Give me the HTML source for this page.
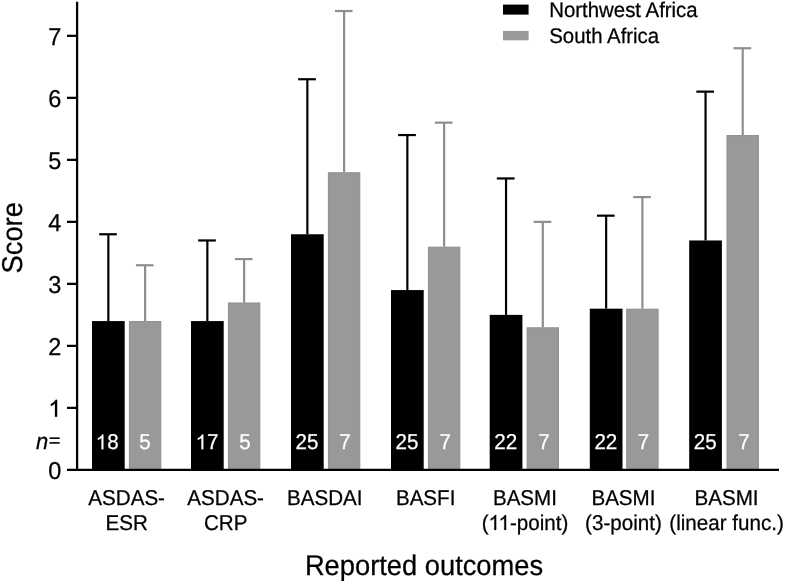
<!DOCTYPE html><html><head><meta charset="utf-8"><style>html,body{margin:0;padding:0;background:#fff;}svg{display:block;will-change:transform;}text{font-family:"Liberation Sans",sans-serif;text-rendering:geometricPrecision;}</style></head><body>
<svg width="785" height="582" viewBox="0 0 785 582">
<rect width="785" height="582" fill="#fff"/>
<line x1="108.35" y1="321.08" x2="108.35" y2="234.26" stroke="#000" stroke-width="2.2"/>
<line x1="99.15" y1="234.26" x2="116.85" y2="234.26" stroke="#000" stroke-width="2.2"/>
<line x1="145.10" y1="321.08" x2="145.10" y2="265.27" stroke="#8e8e8e" stroke-width="2.2"/>
<line x1="135.90" y1="265.27" x2="153.60" y2="265.27" stroke="#8e8e8e" stroke-width="2.2"/>
<rect x="92.00" y="321.08" width="32.7" height="148.82" fill="#000"/>
<rect x="129.40" y="321.58" width="31.4" height="148.32" fill="#999999" stroke="#8e8e8e" stroke-width="1"/>
<path transform="translate(95.69,449.30) scale(0.01006,-0.01006)" d="M763 0L583 0L583 1147Q518 1085 412 1023Q306 961 223 930L223 1104Q375 1175 488 1276Q601 1377 648 1472L763 1472Z" fill="#fff" stroke="#fff" stroke-width="24.85"/><text transform="translate(107.15,449.30) scale(1,1.04)" font-size="20.6" fill="#fff" stroke="#fff" stroke-width="0.25">8</text>
<text transform="translate(139.37,449.30) scale(1,1.04)" font-size="20.6" fill="#fff" stroke="#fff" stroke-width="0.25">5</text>
<text transform="translate(126.65,505.45) scale(1,1.04)" font-size="20.6" text-anchor="middle" stroke="#000" stroke-width="0.25">ASDAS-</text>
<text transform="translate(126.65,529.90) scale(1,1.04)" font-size="20.6" text-anchor="middle" stroke="#000" stroke-width="0.25">ESR</text>
<line x1="207.35" y1="321.08" x2="207.35" y2="240.46" stroke="#000" stroke-width="2.2"/>
<line x1="198.15" y1="240.46" x2="215.85" y2="240.46" stroke="#000" stroke-width="2.2"/>
<line x1="244.10" y1="302.47" x2="244.10" y2="259.07" stroke="#8e8e8e" stroke-width="2.2"/>
<line x1="234.90" y1="259.07" x2="252.60" y2="259.07" stroke="#8e8e8e" stroke-width="2.2"/>
<rect x="191.00" y="321.08" width="32.7" height="148.82" fill="#000"/>
<rect x="228.40" y="302.97" width="31.4" height="166.93" fill="#999999" stroke="#8e8e8e" stroke-width="1"/>
<path transform="translate(195.59,449.30) scale(0.01006,-0.01006)" d="M763 0L583 0L583 1147Q518 1085 412 1023Q306 961 223 930L223 1104Q375 1175 488 1276Q601 1377 648 1472L763 1472Z" fill="#fff" stroke="#fff" stroke-width="24.85"/><text transform="translate(207.05,449.30) scale(1,1.04)" font-size="20.6" fill="#fff" stroke="#fff" stroke-width="0.25">7</text>
<text transform="translate(239.27,449.30) scale(1,1.04)" font-size="20.6" fill="#fff" stroke="#fff" stroke-width="0.25">5</text>
<text transform="translate(225.65,505.45) scale(1,1.04)" font-size="20.6" text-anchor="middle" stroke="#000" stroke-width="0.25">ASDAS-</text>
<text transform="translate(225.65,529.90) scale(1,1.04)" font-size="20.6" text-anchor="middle" stroke="#000" stroke-width="0.25">CRP</text>
<line x1="307.35" y1="234.26" x2="307.35" y2="79.24" stroke="#000" stroke-width="2.2"/>
<line x1="298.15" y1="79.24" x2="315.85" y2="79.24" stroke="#000" stroke-width="2.2"/>
<line x1="344.10" y1="172.25" x2="344.10" y2="11.03" stroke="#8e8e8e" stroke-width="2.2"/>
<line x1="334.90" y1="11.03" x2="352.60" y2="11.03" stroke="#8e8e8e" stroke-width="2.2"/>
<rect x="291.00" y="234.26" width="32.7" height="235.64" fill="#000"/>
<rect x="328.40" y="172.75" width="31.4" height="297.15" fill="#999999" stroke="#8e8e8e" stroke-width="1"/>
<text transform="translate(295.59,449.30) scale(1,1.04)" font-size="20.6" fill="#fff" stroke="#fff" stroke-width="0.25">2</text><text transform="translate(307.05,449.30) scale(1,1.04)" font-size="20.6" fill="#fff" stroke="#fff" stroke-width="0.25">5</text>
<text transform="translate(339.27,449.30) scale(1,1.04)" font-size="20.6" fill="#fff" stroke="#fff" stroke-width="0.25">7</text>
<text transform="translate(324.75,505.45) scale(1,1.04)" font-size="20.6" text-anchor="middle" stroke="#000" stroke-width="0.25">BASDAI</text>
<line x1="407.35" y1="290.07" x2="407.35" y2="135.05" stroke="#000" stroke-width="2.2"/>
<line x1="398.15" y1="135.05" x2="415.85" y2="135.05" stroke="#000" stroke-width="2.2"/>
<line x1="444.10" y1="246.66" x2="444.10" y2="122.64" stroke="#8e8e8e" stroke-width="2.2"/>
<line x1="434.90" y1="122.64" x2="452.60" y2="122.64" stroke="#8e8e8e" stroke-width="2.2"/>
<rect x="391.00" y="290.07" width="32.7" height="179.83" fill="#000"/>
<rect x="428.40" y="247.16" width="31.4" height="222.74" fill="#999999" stroke="#8e8e8e" stroke-width="1"/>
<text transform="translate(395.59,449.30) scale(1,1.04)" font-size="20.6" fill="#fff" stroke="#fff" stroke-width="0.25">2</text><text transform="translate(407.05,449.30) scale(1,1.04)" font-size="20.6" fill="#fff" stroke="#fff" stroke-width="0.25">5</text>
<text transform="translate(439.57,449.30) scale(1,1.04)" font-size="20.6" fill="#fff" stroke="#fff" stroke-width="0.25">7</text>
<text transform="translate(425.65,505.45) scale(1,1.04)" font-size="20.6" text-anchor="middle" stroke="#000" stroke-width="0.25">BASFI</text>
<line x1="506.05" y1="314.88" x2="506.05" y2="178.45" stroke="#000" stroke-width="2.2"/>
<line x1="496.85" y1="178.45" x2="514.55" y2="178.45" stroke="#000" stroke-width="2.2"/>
<line x1="542.80" y1="327.28" x2="542.80" y2="221.86" stroke="#8e8e8e" stroke-width="2.2"/>
<line x1="533.60" y1="221.86" x2="551.30" y2="221.86" stroke="#8e8e8e" stroke-width="2.2"/>
<rect x="489.70" y="314.88" width="32.7" height="155.02" fill="#000"/>
<rect x="527.10" y="327.78" width="31.4" height="142.12" fill="#999999" stroke="#8e8e8e" stroke-width="1"/>
<text transform="translate(494.29,449.30) scale(1,1.04)" font-size="20.6" fill="#fff" stroke="#fff" stroke-width="0.25">2</text><text transform="translate(505.75,449.30) scale(1,1.04)" font-size="20.6" fill="#fff" stroke="#fff" stroke-width="0.25">2</text>
<text transform="translate(538.27,449.30) scale(1,1.04)" font-size="20.6" fill="#fff" stroke="#fff" stroke-width="0.25">7</text>
<text transform="translate(524.95,505.45) scale(1,1.04)" font-size="20.6" text-anchor="middle" stroke="#000" stroke-width="0.25">BASMI</text>
<text transform="translate(481.63,529.90) scale(1,1.04)" font-size="20.6" stroke="#000" stroke-width="0.25">(</text><path transform="translate(488.49,529.90) scale(0.01006,-0.01006)" d="M763 0L583 0L583 1147Q518 1085 412 1023Q306 961 223 930L223 1104Q375 1175 488 1276Q601 1377 648 1472L763 1472Z" fill="#000" stroke="#000" stroke-width="24.85"/><path transform="translate(498.42,529.90) scale(0.01006,-0.01006)" d="M763 0L583 0L583 1147Q518 1085 412 1023Q306 961 223 930L223 1104Q375 1175 488 1276Q601 1377 648 1472L763 1472Z" fill="#000" stroke="#000" stroke-width="24.85"/><text transform="translate(509.88,529.90) scale(1,1.04)" font-size="20.6" stroke="#000" stroke-width="0.25">-point)</text>
<line x1="606.15" y1="308.67" x2="606.15" y2="215.66" stroke="#000" stroke-width="2.2"/>
<line x1="596.95" y1="215.66" x2="614.65" y2="215.66" stroke="#000" stroke-width="2.2"/>
<line x1="642.40" y1="308.67" x2="642.40" y2="197.06" stroke="#8e8e8e" stroke-width="2.2"/>
<line x1="633.20" y1="197.06" x2="650.90" y2="197.06" stroke="#8e8e8e" stroke-width="2.2"/>
<rect x="589.80" y="308.67" width="32.7" height="161.23" fill="#000"/>
<rect x="626.70" y="309.17" width="31.4" height="160.73" fill="#999999" stroke="#8e8e8e" stroke-width="1"/>
<text transform="translate(594.39,449.30) scale(1,1.04)" font-size="20.6" fill="#fff" stroke="#fff" stroke-width="0.25">2</text><text transform="translate(605.85,449.30) scale(1,1.04)" font-size="20.6" fill="#fff" stroke="#fff" stroke-width="0.25">2</text>
<text transform="translate(637.87,449.30) scale(1,1.04)" font-size="20.6" fill="#fff" stroke="#fff" stroke-width="0.25">7</text>
<text transform="translate(623.45,505.45) scale(1,1.04)" font-size="20.6" text-anchor="middle" stroke="#000" stroke-width="0.25">BASMI</text>
<text transform="translate(623.45,529.90) scale(1,1.04)" font-size="20.6" text-anchor="middle" stroke="#000" stroke-width="0.25">(3-point)</text>
<line x1="705.55" y1="240.46" x2="705.55" y2="91.64" stroke="#000" stroke-width="2.2"/>
<line x1="696.35" y1="91.64" x2="714.05" y2="91.64" stroke="#000" stroke-width="2.2"/>
<line x1="742.70" y1="135.05" x2="742.70" y2="48.23" stroke="#8e8e8e" stroke-width="2.2"/>
<line x1="733.50" y1="48.23" x2="751.20" y2="48.23" stroke="#8e8e8e" stroke-width="2.2"/>
<rect x="689.20" y="240.46" width="32.7" height="229.44" fill="#000"/>
<rect x="727.00" y="135.55" width="31.4" height="334.35" fill="#999999" stroke="#8e8e8e" stroke-width="1"/>
<text transform="translate(693.79,449.30) scale(1,1.04)" font-size="20.6" fill="#fff" stroke="#fff" stroke-width="0.25">2</text><text transform="translate(705.25,449.30) scale(1,1.04)" font-size="20.6" fill="#fff" stroke="#fff" stroke-width="0.25">5</text>
<text transform="translate(738.17,449.30) scale(1,1.04)" font-size="20.6" fill="#fff" stroke="#fff" stroke-width="0.25">7</text>
<text transform="translate(726.55,505.45) scale(1,1.04)" font-size="20.6" text-anchor="middle" stroke="#000" stroke-width="0.25">BASMI</text>
<text transform="translate(726.55,529.90) scale(1,1.04)" font-size="20.6" text-anchor="middle" stroke="#000" stroke-width="0.25">(linear func.)</text>
<line x1="77.1" y1="1.7" x2="77.1" y2="471.02" stroke="#000" stroke-width="2.25"/>
<line x1="67" y1="469.90" x2="779" y2="469.90" stroke="#000" stroke-width="2.25"/>
<line x1="67" y1="407.89" x2="77.1" y2="407.89" stroke="#000" stroke-width="2.25"/>
<line x1="67" y1="345.88" x2="77.1" y2="345.88" stroke="#000" stroke-width="2.25"/>
<line x1="67" y1="283.87" x2="77.1" y2="283.87" stroke="#000" stroke-width="2.25"/>
<line x1="67" y1="221.86" x2="77.1" y2="221.86" stroke="#000" stroke-width="2.25"/>
<line x1="67" y1="159.85" x2="77.1" y2="159.85" stroke="#000" stroke-width="2.25"/>
<line x1="67" y1="97.84" x2="77.1" y2="97.84" stroke="#000" stroke-width="2.25"/>
<line x1="67" y1="35.83" x2="77.1" y2="35.83" stroke="#000" stroke-width="2.25"/>
<text transform="translate(48.33,478.70) scale(1,1.04)" font-size="23.5" stroke="#000" stroke-width="0.25">0</text>
<path transform="translate(48.33,416.69) scale(0.01147,-0.01147)" d="M763 0L583 0L583 1147Q518 1085 412 1023Q306 961 223 930L223 1104Q375 1175 488 1276Q601 1377 648 1472L763 1472Z" fill="#000" stroke="#000" stroke-width="21.79"/>
<text transform="translate(48.33,354.68) scale(1,1.04)" font-size="23.5" stroke="#000" stroke-width="0.25">2</text>
<text transform="translate(48.33,292.67) scale(1,1.04)" font-size="23.5" stroke="#000" stroke-width="0.25">3</text>
<text transform="translate(48.33,230.66) scale(1,1.04)" font-size="23.5" stroke="#000" stroke-width="0.25">4</text>
<text transform="translate(48.33,168.65) scale(1,1.04)" font-size="23.5" stroke="#000" stroke-width="0.25">5</text>
<text transform="translate(48.33,106.64) scale(1,1.04)" font-size="23.5" stroke="#000" stroke-width="0.25">6</text>
<text transform="translate(48.33,44.63) scale(1,1.04)" font-size="23.5" stroke="#000" stroke-width="0.25">7</text>
<text transform="translate(48.15,449.20) scale(1,1.04)" font-size="22" text-anchor="end" stroke="#000" stroke-width="0.25"><tspan font-style="italic">n</tspan></text>
<rect x="49.5" y="437.35" width="10.2" height="1.6" fill="#000"/><rect x="49.5" y="442.1" width="10.2" height="1.6" fill="#000"/>
<text transform="translate(424.00,575.00) scale(1,1.04)" font-size="27.3" text-anchor="middle" stroke="#000" stroke-width="0.25">Reported outcomes</text>
<text transform="translate(21.8,237.8) rotate(-90) scale(1,1.05)" font-size="27.3" text-anchor="middle" stroke="#000" stroke-width="0.25">Score</text>
<rect x="503" y="4.6" width="25.6" height="10" fill="#000"/>
<rect x="503" y="30.9" width="25.6" height="9.4" fill="#999999"/>
<text transform="translate(549.20,16.80) scale(1,1.04)" font-size="20.4" stroke="#000" stroke-width="0.25">Northwest Africa</text>
<text transform="translate(549.20,42.90) scale(1,1.04)" font-size="20.4" stroke="#000" stroke-width="0.25">South Africa</text>
</svg></body></html>
